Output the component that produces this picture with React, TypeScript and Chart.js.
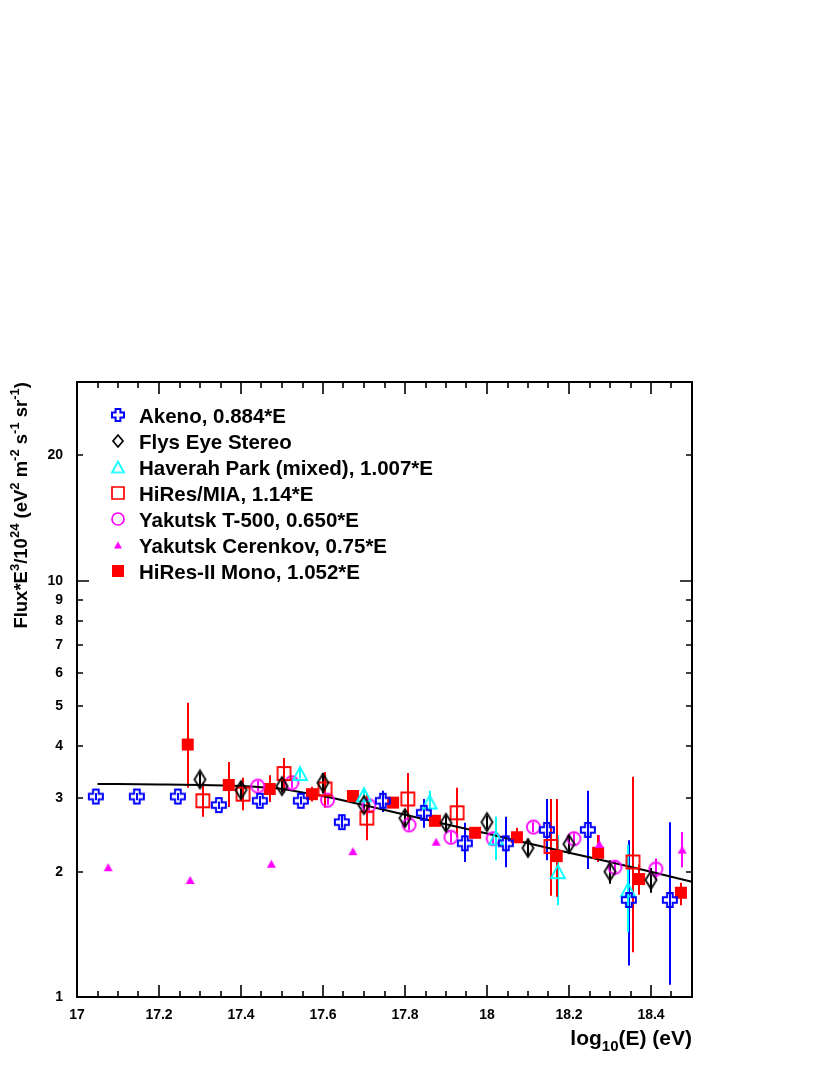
import React, { useEffect, useRef } from 'react';
import { Chart, registerables } from 'chart.js';
Chart.register(...registerables);

const FONT = '"Liberation Sans", Arial, Helvetica, sans-serif';

// Axes
const xMin = 17;
const xMax = 18.5;
const yMin = 1;
const yMax = 30;
const xTickValues = [17, 17.2, 17.4, 17.6, 17.8, 18, 18.2, 18.4];
const yTickValues = [1, 2, 3, 4, 5, 6, 7, 8, 9, 10, 20];
const yMajorTicks = [1, 10];
const yMinorTicks = [2, 3, 4, 5, 6, 7, 8, 9, 20, 30];

const seriesNames = [
  'Akeno, 0.884*E',
  'Flys Eye Stereo',
  'Haverah Park (mixed), 1.007*E',
  'HiRes/MIA, 1.14*E',
  'Yakutsk T-500, 0.650*E',
  'Yakutsk Cerenkov, 0.75*E',
  'HiRes-II Mono, 1.052*E',
];

// Akeno
const akenoX = [17.046, 17.146, 17.246, 17.346, 17.446, 17.546, 17.646, 17.746, 17.846, 17.946, 18.046, 18.146, 18.246, 18.346, 18.446];
const akenoY = [3.03, 3.03, 3.03, 2.89, 2.96, 2.96, 2.63, 2.96, 2.77, 2.34, 2.34, 2.52, 2.52, 1.71, 1.71];
const akenoLo = [2.97, 2.97, 2.97, 2.83, 2.88, 2.9, 2.55, 2.78, 2.55, 2.11, 2.05, 2.13, 2.03, 1.19, 1.07];
const akenoHi = [3.09, 3.09, 3.09, 2.95, 3.04, 3.03, 2.72, 3.13, 2.99, 2.62, 2.71, 2.99, 3.13, 2.38, 2.63];

// Fly's Eye Stereo
const flysX = [17.3, 17.4, 17.5, 17.6, 17.7, 17.8, 17.9, 18.0, 18.1, 18.2, 18.3, 18.4];
const flysY = [3.33, 3.14, 3.21, 3.27, 2.89, 2.69, 2.62, 2.63, 2.28, 2.33, 2.0, 1.91];
const flysLo = [3.2, 2.98, 3.1, 3.08, 2.78, 2.58, 2.52, 2.53, 2.18, 2.22, 1.87, 1.78];
const flysHi = [3.46, 3.3, 3.32, 3.45, 3.0, 2.8, 2.72, 2.73, 2.38, 2.44, 2.13, 2.04];

// Haverah Park
const haverahX = [17.544, 17.7, 17.86, 18.022, 18.173, 18.344];
const haverahY = [3.44, 3.06, 2.94, 2.41, 2.0, 1.81];
const haverahLo = [3.35, 2.9, 2.78, 2.13, 1.66, 1.43];
const haverahHi = [3.53, 3.18, 3.13, 2.71, 2.45, 2.32];

// HiRes/MIA
const miaX = [17.307, 17.405, 17.505, 17.605, 17.707, 17.807, 17.927, 18.156, 18.356];
const miaY = [2.96, 3.07, 3.44, 3.16, 2.69, 2.99, 2.77, 2.3, 2.11];
const miaLo = [2.71, 2.81, 3.1, 2.85, 2.38, 2.66, 2.42, 1.75, 1.28];
const miaHi = [3.27, 3.36, 3.75, 3.47, 3.06, 3.45, 3.18, 2.99, 3.38];

// Yakutsk T-500
const t500X = [17.441, 17.524, 17.611, 17.712, 17.81, 17.912, 18.015, 18.113, 18.212, 18.312, 18.412];
const t500Y = [3.21, 3.27, 2.97, 2.88, 2.59, 2.42, 2.4, 2.56, 2.4, 2.05, 2.03];
const t500Lo = [3.12, 3.18, 2.89, 2.8, 2.52, 2.35, 2.33, 2.49, 2.33, 1.96, 1.91];
const t500Hi = [3.3, 3.36, 3.05, 2.96, 2.66, 2.49, 2.47, 2.63, 2.47, 2.12, 2.15];

// Yakutsk Cerenkov
const cerX = [17.076, 17.276, 17.474, 17.673, 17.876, 18.274, 18.476];
const cerY = [2.05, 1.91, 2.09, 2.24, 2.36, 2.33, 2.26];
const cerLo = [2.05, 1.91, 2.09, 2.24, 2.36, 2.27, 2.05];
const cerHi = [2.05, 1.91, 2.09, 2.24, 2.36, 2.45, 2.49];

// HiRes-II Mono
const hires2X = [17.27, 17.37, 17.47, 17.573, 17.673, 17.771, 17.873, 17.971, 18.073, 18.17, 18.271, 18.371, 18.473];
const hires2Y = [4.04, 3.23, 3.16, 3.07, 3.04, 2.93, 2.65, 2.48, 2.42, 2.18, 2.22, 1.92, 1.78];
const hires2Lo = [3.18, 2.86, 2.94, 2.95, 2.96, 2.85, 2.57, 2.42, 2.36, 1.74, 2.11, 1.76, 1.66];
const hires2Hi = [5.09, 3.67, 3.41, 3.2, 3.12, 3.01, 2.74, 2.55, 2.55, 2.99, 2.45, 2.08, 1.88];

// Fit curve
const fitX = [17.05, 17.2, 17.3, 17.4, 17.45, 17.5, 17.55, 17.6, 17.7, 17.8, 17.9, 18.0, 18.1, 18.2, 18.3, 18.4, 18.5];
const fitY = [3.25, 3.24, 3.23, 3.21, 3.19, 3.16, 3.1, 3.04, 2.89, 2.74, 2.6, 2.47, 2.34, 2.22, 2.11, 2.0, 1.89];

const BLUE = '#0000ff';
const CYAN = '#00ffff';
const RED = '#ff0000';
const MAGENTA = '#ff00ff';
const BLACK = '#000000';

function makeMarker(kind: string, color: string, w: number, h: number, lw: number): HTMLCanvasElement {
  const pad = 2;
  const c = document.createElement('canvas');
  c.width = Math.ceil(w + 2 * pad);
  c.height = Math.ceil(h + 2 * pad);
  const ctx = c.getContext('2d') as CanvasRenderingContext2D;
  const cx = c.width / 2;
  const cy = c.height / 2;
  ctx.strokeStyle = color;
  ctx.fillStyle = color;
  ctx.lineWidth = lw;
  ctx.beginPath();
  const hw = w / 2;
  const hh = h / 2;
  if (kind === 'cross') {
    const a = w * 0.2;
    const pts = [
      [-a, -hh], [a, -hh], [a, -a], [hw, -a], [hw, a], [a, a],
      [a, hh], [-a, hh], [-a, a], [-hw, a], [-hw, -a], [-a, -a],
    ];
    pts.forEach((p, i) => (i === 0 ? ctx.moveTo(cx + p[0], cy + p[1]) : ctx.lineTo(cx + p[0], cy + p[1])));
    ctx.closePath();
    ctx.stroke();
  } else if (kind === 'diamond') {
    ctx.moveTo(cx, cy - hh);
    ctx.lineTo(cx + hw, cy);
    ctx.lineTo(cx, cy + hh);
    ctx.lineTo(cx - hw, cy);
    ctx.closePath();
    ctx.stroke();
  } else if (kind === 'triangle' || kind === 'triangleFilled') {
    ctx.moveTo(cx, cy - hh);
    ctx.lineTo(cx + hw, cy + hh);
    ctx.lineTo(cx - hw, cy + hh);
    ctx.closePath();
    if (kind === 'triangle') ctx.stroke();
    else ctx.fill();
  } else if (kind === 'square') {
    ctx.rect(cx - hw, cy - hh, w, h);
    ctx.stroke();
  } else if (kind === 'squareFilled') {
    ctx.rect(cx - hw, cy - hh, w, h);
    ctx.fill();
  } else if (kind === 'circle') {
    ctx.arc(cx, cy, hw, 0, Math.PI * 2);
    ctx.stroke();
  }
  return c;
}

type Run = { t: string; s?: 'sup' | 'sub' };

function drawRich(ctx: CanvasRenderingContext2D, runs: Run[], x: number, y: number, size: number, small: number, align: 'left' | 'right') {
  const mainFont = `bold ${size}px ${FONT}`;
  const smallFont = `bold ${small}px ${FONT}`;
  let total = 0;
  runs.forEach((r) => {
    ctx.font = r.s ? smallFont : mainFont;
    total += ctx.measureText(r.t).width;
  });
  let cx = align === 'right' ? x - total : x;
  ctx.textAlign = 'left';
  ctx.textBaseline = 'alphabetic';
  runs.forEach((r) => {
    ctx.font = r.s ? smallFont : mainFont;
    let dy = 0;
    if (r.s === 'sup') dy = -size * 0.45;
    if (r.s === 'sub') dy = size * 0.3;
    ctx.fillText(r.t, cx, y + dy);
    cx += ctx.measureText(r.t).width;
  });
}

const yTitle: Run[] = [
  { t: 'Flux*E' }, { t: '3', s: 'sup' }, { t: '/10' }, { t: '24', s: 'sup' },
  { t: ' (eV' }, { t: '2', s: 'sup' }, { t: ' m' }, { t: '-2', s: 'sup' },
  { t: ' s' }, { t: '-1', s: 'sup' }, { t: ' sr' }, { t: '-1', s: 'sup' }, { t: ')' },
];
const xTitle: Run[] = [{ t: 'log' }, { t: '10', s: 'sub' }, { t: '(E) (eV)' }];

const decorPlugin = {
  id: 'decor',
  beforeDatasetsDraw(chart: any) {
    const { ctx, scales } = chart;
    const xs = scales.x;
    const ys = scales.y;
    ctx.save();
    chart.data.datasets.forEach((ds: any) => {
      if (!ds.errLo) return;
      ctx.strokeStyle = ds.errColor;
      ctx.lineWidth = 2;
      ds.data.forEach((p: any, i: number) => {
        const px = Math.round(xs.getPixelForValue(p.x));
        const y1 = ys.getPixelForValue(ds.errLo[i]);
        const y2 = ys.getPixelForValue(ds.errHi[i]);
        if (Math.abs(y1 - y2) < 0.5) return;
        ctx.beginPath();
        ctx.moveTo(px, y1);
        ctx.lineTo(px, y2);
        ctx.stroke();
      });
    });
    ctx.restore();
  },
  afterDraw(chart: any) {
    const { ctx, chartArea, scales } = chart;
    const { left, right, top, bottom } = chartArea;
    const xs = scales.x;
    const ys = scales.y;
    ctx.save();
    // frame
    ctx.strokeStyle = BLACK;
    ctx.lineWidth = 2;
    ctx.strokeRect(left, top, right - left, bottom - top);
    // x ticks
    ctx.lineWidth = 1.6;
    for (let k = 0; k <= 30; k++) {
      const v = xMin + k * 0.05;
      const len = k % 4 === 0 ? 12 : 6;
      const px = Math.round(xs.getPixelForValue(v));
      ctx.beginPath();
      ctx.moveTo(px, bottom);
      ctx.lineTo(px, bottom - len);
      ctx.moveTo(px, top);
      ctx.lineTo(px, top + len);
      ctx.stroke();
    }
    // y ticks
    const yTicks = [...yMajorTicks.map((v) => [v, 12]), ...yMinorTicks.map((v) => [v, 6])];
    yTicks.forEach(([v, len]) => {
      const py = Math.round(ys.getPixelForValue(v));
      ctx.beginPath();
      ctx.moveTo(left, py);
      ctx.lineTo(left + len, py);
      ctx.moveTo(right, py);
      ctx.lineTo(right - len, py);
      ctx.stroke();
    });
    // titles
    ctx.fillStyle = BLACK;
    drawRich(ctx, xTitle, right, 1045, 21, 15, 'right');
    ctx.save();
    ctx.translate(27, top);
    ctx.rotate(-Math.PI / 2);
    drawRich(ctx, yTitle, 0, 0, 18.5, 13, 'right');
    ctx.restore();
    // legend
    chart.data.datasets.forEach((ds: any, i: number) => {
      if (!ds.legendStyle) return;
      const cy = 415 + i * 26;
      const img = ds.legendStyle as HTMLCanvasElement;
      ctx.drawImage(img, 118 - img.width / 2, cy - img.height / 2);
      ctx.font = `bold 20.5px ${FONT}`;
      ctx.textAlign = 'left';
      ctx.textBaseline = 'alphabetic';
      ctx.fillText(ds.label, 139, cy + 7.5);
    });
    ctx.restore();
  },
};

function pts(xs: number[], ys: number[]) {
  return xs.map((x, i) => ({ x, y: ys[i] }));
}

export default function App() {
  const ref = useRef<HTMLCanvasElement>(null);
  useEffect(() => {
    if (!ref.current) return;
    const mk = makeMarker;
    const datasets: any[] = [
      {
        label: seriesNames[0], data: pts(akenoX, akenoY), errLo: akenoLo, errHi: akenoHi, errColor: BLUE,
        pointStyle: mk('cross', BLUE, 14, 14, 2), legendStyle: mk('cross', BLUE, 12, 12, 2),
      },
      {
        label: seriesNames[1], data: pts(flysX, flysY), errLo: flysLo, errHi: flysHi, errColor: BLACK,
        pointStyle: mk('diamond', BLACK, 11, 18, 1.8), legendStyle: mk('diamond', BLACK, 10, 12, 1.7),
      },
      {
        label: seriesNames[2], data: pts(haverahX, haverahY), errLo: haverahLo, errHi: haverahHi, errColor: CYAN,
        pointStyle: mk('triangle', CYAN, 14, 13, 1.8), legendStyle: mk('triangle', CYAN, 12, 11, 1.7),
      },
      {
        label: seriesNames[3], data: pts(miaX, miaY), errLo: miaLo, errHi: miaHi, errColor: RED,
        pointStyle: mk('square', RED, 13, 13, 1.8), legendStyle: mk('square', RED, 12, 12, 1.7),
      },
      {
        label: seriesNames[4], data: pts(t500X, t500Y), errLo: t500Lo, errHi: t500Hi, errColor: MAGENTA,
        pointStyle: mk('circle', MAGENTA, 13, 13, 1.8), legendStyle: mk('circle', MAGENTA, 12, 12, 1.7),
      },
      {
        label: seriesNames[5], data: pts(cerX, cerY), errLo: cerLo, errHi: cerHi, errColor: MAGENTA,
        pointStyle: mk('triangleFilled', MAGENTA, 9, 8, 1), legendStyle: mk('triangleFilled', MAGENTA, 8, 7, 1),
      },
      {
        label: seriesNames[6], data: pts(hires2X, hires2Y), errLo: hires2Lo, errHi: hires2Hi, errColor: RED,
        pointStyle: mk('squareFilled', RED, 12, 12, 1), legendStyle: mk('squareFilled', RED, 12, 12, 1),
      },
      {
        type: 'line', label: 'fit', data: pts(fitX, fitY), borderColor: BLACK, borderWidth: 2,
        pointRadius: 0, showLine: true, fill: false, cubicInterpolationMode: 'monotone', order: 1,
      },
    ];
    datasets.forEach((d) => {
      if (d.type !== 'line') {
        d.pointRadius = 7;
        d.pointHoverRadius = 7;
        d.showLine = false;
      }
    });
    const tickFont = { family: FONT, size: 14, weight: 'bold' as const };
    const chart = new Chart(ref.current, {
      type: 'scatter',
      data: { datasets },
      options: {
        animation: false,
        responsive: false,
        devicePixelRatio: 1,
        layout: { padding: { left: 0, right: 138, top: 382, bottom: 0 } },
        plugins: { legend: { display: false }, tooltip: { enabled: false } },
        events: [],
        scales: {
          x: {
            type: 'linear', min: xMin, max: xMax,
            afterBuildTicks: (s: any) => { s.ticks = xTickValues.map((v) => ({ value: v })); },
            afterFit: (s: any) => { s.height = 78; },
            grid: { display: false, drawTicks: false },
            border: { display: false },
            ticks: {
              font: tickFont, color: BLACK, padding: 10, autoSkip: false, maxRotation: 0,
              callback: (v: any) => String(Math.round(Number(v) * 10) / 10),
            },
          },
          y: {
            type: 'logarithmic', min: yMin, max: yMax,
            afterBuildTicks: (s: any) => { s.ticks = yTickValues.map((v) => ({ value: v })); },
            afterFit: (s: any) => { s.width = 77; },
            grid: { display: false, drawTicks: false },
            border: { display: false },
            ticks: {
              font: tickFont, color: BLACK, padding: 14, autoSkip: false,
              callback: (v: any) => String(v),
            },
          },
        },
      } as any,
      plugins: [decorPlugin],
    });
    return () => chart.destroy();
  }, []);
  return (
    <div style={{ position: 'absolute', left: 0, top: 0, width: 830, height: 1075, background: '#fff' }}>
      <canvas ref={ref} width={830} height={1075} style={{ display: 'block' }} />
    </div>
  );
}
